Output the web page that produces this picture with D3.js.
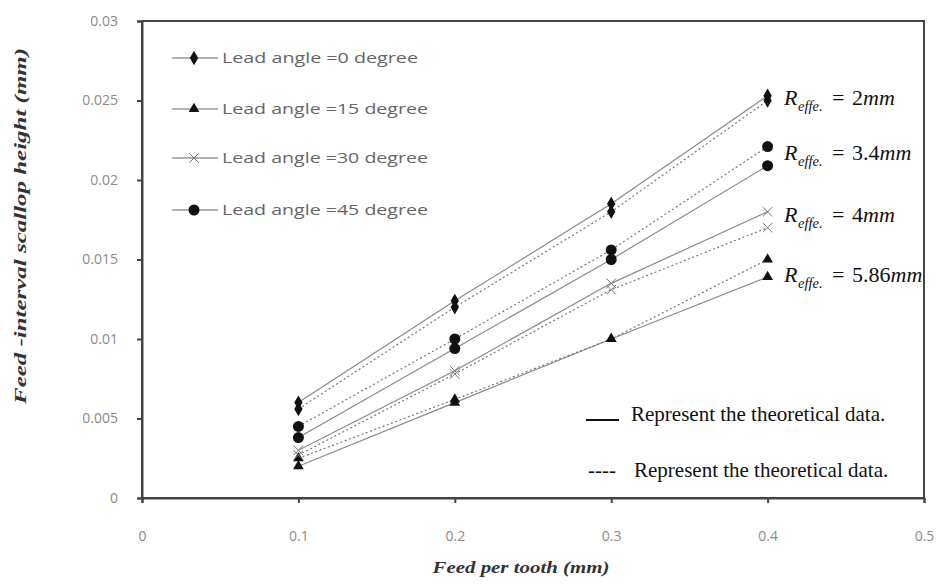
<!DOCTYPE html>
<html><head><meta charset="utf-8">
<script src="https://cdn.jsdelivr.net/npm/d3@7"></script>
<style>body{margin:0;background:#fff}svg{display:block}</style>
</head><body>
<svg id="c" width="940" height="584"></svg>
<script>
const feed = [0.1, 0.2, 0.3, 0.4];
const xTicks = [0, 0.1, 0.2, 0.3, 0.4, 0.5];
const yTicks = [0, 0.005, 0.01, 0.015, 0.02, 0.025, 0.03];
const xTickLabels = ["0", "0.1", "0.2", "0.3", "0.4", "0.5"];
const yTickLabels = ["0", "0.005", "0.01", "0.015", "0.02", "0.025", "0.03"];
const legendNames = ["Lead angle =0 degree", "Lead angle =15 degree", "Lead angle =30 degree", "Lead angle =45 degree"];
const markerTypes = ["diamond", "triangle", "cross", "circle"];
const solid0  = [0.0060, 0.0124, 0.0185, 0.0253];
const dash0   = [0.0056, 0.0120, 0.0180, 0.0250];
const solid15 = [0.0020, 0.0060, 0.0100, 0.0139];
const dash15  = [0.0025, 0.0062, 0.0100, 0.0150];
const solid30 = [0.0030, 0.0080, 0.0135, 0.0180];
const dash30  = [0.0027, 0.0078, 0.0131, 0.0170];
const solid45 = [0.0038, 0.0094, 0.0150, 0.0209];
const dash45  = [0.0045, 0.0100, 0.0156, 0.0221];
const rLabels = ["2", "3.4", "4", "5.86"];

const svg = d3.select("#c");
const x = d3.scaleLinear().domain([0, 0.5]).range([142, 924]);
const y = d3.scaleLinear().domain([0, 0.03]).range([498, 21]);

// plot border
svg.append("rect").attr("x", x(0)).attr("y", y(0.03)).attr("width", x(0.5) - x(0)).attr("height", y(0) - y(0.03))
  .attr("fill", "none").attr("stroke", "#444").attr("stroke-width", 2);

// axes
const xAxis = svg.append("g").attr("transform", `translate(0,${y(0)})`)
  .call(d3.axisBottom(x).tickValues(xTicks).tickFormat((d, i) => xTickLabels[i]).tickSize(5).tickPadding(28));
const yAxis = svg.append("g").attr("transform", `translate(${x(0)},0)`)
  .call(d3.axisLeft(y).tickValues(yTicks).tickFormat((d, i) => yTickLabels[i]).tickSize(5).tickPadding(19));
[xAxis, yAxis].forEach(a => {
  a.select(".domain").attr("stroke", "#444").attr("stroke-width", 2);
  a.selectAll(".tick line").attr("stroke", "#444").attr("stroke-width", 2);
  a.selectAll(".tick text").attr("fill", "#8a8a8a").style("font-family", "'Open Sans', sans-serif").style("font-size", "14px");
});

// axis titles
svg.append("text").attr("x", 521).attr("y", 573).attr("text-anchor", "middle")
  .attr("textLength", 177).attr("lengthAdjust", "spacingAndGlyphs")
  .style("font-family", "'Liberation Serif', serif").style("font-style", "italic").style("font-weight", "bold")
  .style("font-size", "17px").attr("fill", "#333").text("Feed per tooth (mm)");
svg.append("text").attr("transform", "translate(26,226) rotate(-90)").attr("text-anchor", "middle")
  .attr("textLength", 356).attr("lengthAdjust", "spacingAndGlyphs")
  .style("font-family", "'Liberation Serif', serif").style("font-style", "italic").style("font-weight", "bold")
  .style("font-size", "17px").attr("fill", "#333").text("Feed -interval scallop height (mm)");

// markers
function drawMarker(g, type, cx, cy) {
  if (type === "diamond") {
    g.append("path").attr("d", d3.symbol(d3.symbolDiamond, 60)()).attr("transform", `translate(${cx},${cy})`).attr("fill", "#111");
  } else if (type === "triangle") {
    g.append("path").attr("d", d3.symbol(d3.symbolTriangle, 50)()).attr("transform", `translate(${cx},${cy})`).attr("fill", "#111");
  } else if (type === "circle") {
    g.append("circle").attr("cx", cx).attr("cy", cy).attr("r", 5.5).attr("fill", "#111");
  } else {
    g.append("path").attr("d", d3.symbol(d3.symbolTimes, 60)()).attr("transform", `translate(${cx},${cy})`)
      .attr("fill", "none").attr("stroke", "#777").attr("stroke-width", 1);
  }
}

const series = [
  {vals: solid0, m: "diamond", dash: false},
  {vals: dash0, m: "diamond", dash: true},
  {vals: solid15, m: "triangle", dash: false},
  {vals: dash15, m: "triangle", dash: true},
  {vals: solid30, m: "cross", dash: false},
  {vals: dash30, m: "cross", dash: true},
  {vals: solid45, m: "circle", dash: false},
  {vals: dash45, m: "circle", dash: true}
];
const line = d3.line().x((d, i) => x(feed[i])).y(d => y(d));
const lg = svg.append("g");
series.forEach(s => {
  lg.append("path").attr("d", line(s.vals)).attr("fill", "none")
    .attr("stroke", s.dash ? "#777" : "#8a8a8a").attr("stroke-width", 1.2)
    .attr("stroke-dasharray", s.dash ? "2,2.5" : null);
});
const mg = svg.append("g");
series.forEach(s => s.vals.forEach((v, i) => drawMarker(mg, s.m, x(feed[i]), y(v))));

// legend
const legY = [58, 109, 158, 210];
const legW = [196, 206, 206, 206];
legendNames.forEach((n, i) => {
  const g = svg.append("g");
  g.append("line").attr("x1", 172).attr("x2", 218).attr("y1", legY[i]).attr("y2", legY[i]).attr("stroke", "#666").attr("stroke-width", 1.2);
  drawMarker(g, markerTypes[i], 194, legY[i]);
  g.append("text").attr("x", 222).attr("y", legY[i] + 5).attr("textLength", legW[i]).attr("lengthAdjust", "spacingAndGlyphs")
    .style("font-family", "'Open Sans', sans-serif").style("font-size", "15px").attr("fill", "#666").text(n);
});

// R labels
const rY = [105, 160, 222, 282];
rLabels.forEach((r, i) => {
  const g = svg.append("g").style("font-family", "'Liberation Serif', serif").attr("fill", "#111");
  g.append("text").attr("x", 784).attr("y", rY[i]).style("font-style", "italic").style("font-size", "22px").text("R");
  g.append("text").attr("x", 798).attr("y", rY[i] + 6).style("font-style", "italic").style("font-size", "14.5px").text("effe.");
  const t = g.append("text").attr("x", 832).attr("y", rY[i]).style("font-size", "22px");
  t.append("tspan").text("=");
  t.append("tspan").attr("x", 852).text(r);
  t.append("tspan").style("font-style", "italic").text("mm");
});

// bottom-right notes
svg.append("line").attr("x1", 586).attr("x2", 619).attr("y1", 420).attr("y2", 420).attr("stroke", "#111").attr("stroke-width", 2);
svg.append("text").attr("x", 631).attr("y", 421).style("font-family", "'Liberation Serif', serif").style("font-size", "21px").attr("fill", "#111")
  .text("Represent the theoretical data.");
svg.append("text").attr("x", 588).attr("y", 477).style("font-family", "'Liberation Serif', serif").style("font-size", "21px").attr("fill", "#111")
  .text("----");
svg.append("text").attr("x", 634).attr("y", 477).style("font-family", "'Liberation Serif', serif").style("font-size", "21px").attr("fill", "#111")
  .text("Represent the theoretical data.");
</script>
</body></html>
